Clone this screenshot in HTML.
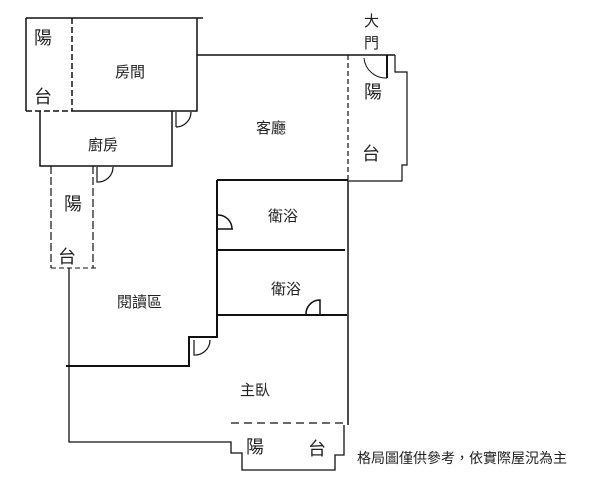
<!DOCTYPE html>
<html><head><meta charset="utf-8"><style>
html,body{margin:0;padding:0;background:#fff;}
svg{display:block;}
text{font-family:"Liberation Sans","Noto Sans CJK TC",sans-serif;fill:#222;}
</style></head><body>
<svg width="612" height="480" viewBox="0 0 612 480" xmlns="http://www.w3.org/2000/svg">
<g stroke="#111" fill="none" stroke-width="1.5">
<path d="M26 18 H203 M26 18 V111 M197 18 V111 H72"/>
<path d="M72 18 V111 M26 111 H72" stroke-dasharray="6 3"/>
<path d="M197 55 H395"/>
<path d="M395 55 V72 H407 V165 H402 V181 H348" stroke-width="1.2"/>
<path d="M348 55 V181" stroke-dasharray="5 3" stroke-width="1.2"/>
<path d="M387 55 V78" stroke-width="2"/>
<path d="M364 58 A22 22 0 0 0 387 78" stroke-width="1"/>
<path d="M40 111 V166 H172 V111"/>
<path d="M176 112 V127 M176 127 A15 15 0 0 0 191 112" stroke-width="1.2"/>
<path d="M51 166 V268 M93 166 V268" stroke-dasharray="8 3" stroke-width="1.2"/>
<path d="M51 268 H98" stroke-dasharray="5 3" stroke-width="1"/>
<path d="M97 167 V182 A15 15 0 0 0 113 167" stroke-width="1.2"/>
<path d="M217 180 H348 M218 250 H345 M217 315 H347" stroke-width="2"/>
<path d="M217 180 V337 H189 V366 H66" stroke-width="2"/>
<path d="M218 229 H233 M218 215 A14 14 0 0 1 232 229" stroke-width="1.5"/>
<path d="M320 315 V300 A14 14 0 0 0 306 315" stroke-width="1.5"/>
<path d="M194 340 V355 A15 15 0 0 0 210 340" stroke-width="1.2"/>
<path d="M348 181 V425" stroke-width="1.5"/>
<path d="M69 268 V442 H231 V453 H242 V470 H335 V455 H344 V425" stroke-width="1.3"/>
<path d="M231 423 H344" stroke-dasharray="8 5" stroke-width="1.3"/>
</g>
<g font-size="15">
<text x="115" y="77">房間</text>
<text x="256" y="133">客廳</text>
<text x="88" y="150">廚房</text>
<text x="268" y="221">衛浴</text>
<text x="271" y="294">衛浴</text>
<text x="117" y="307">閱讀區</text>
<text x="240" y="395">主臥</text>
<text x="364" y="26">大</text>
<text x="364" y="48">門</text>
</g>
<g font-size="18" fill="#333">
<text x="34" y="44">陽</text><text x="34" y="103">台</text>
<text x="364" y="98">陽</text><text x="362" y="160">台</text>
<text x="64" y="210">陽</text><text x="58" y="263">台</text>
<text x="246" y="453">陽</text><text x="308" y="455">台</text>
</g>
<text x="357" y="463" font-size="14">格局圖僅供參考，依實際屋況為主</text>
</svg>
</body></html>
